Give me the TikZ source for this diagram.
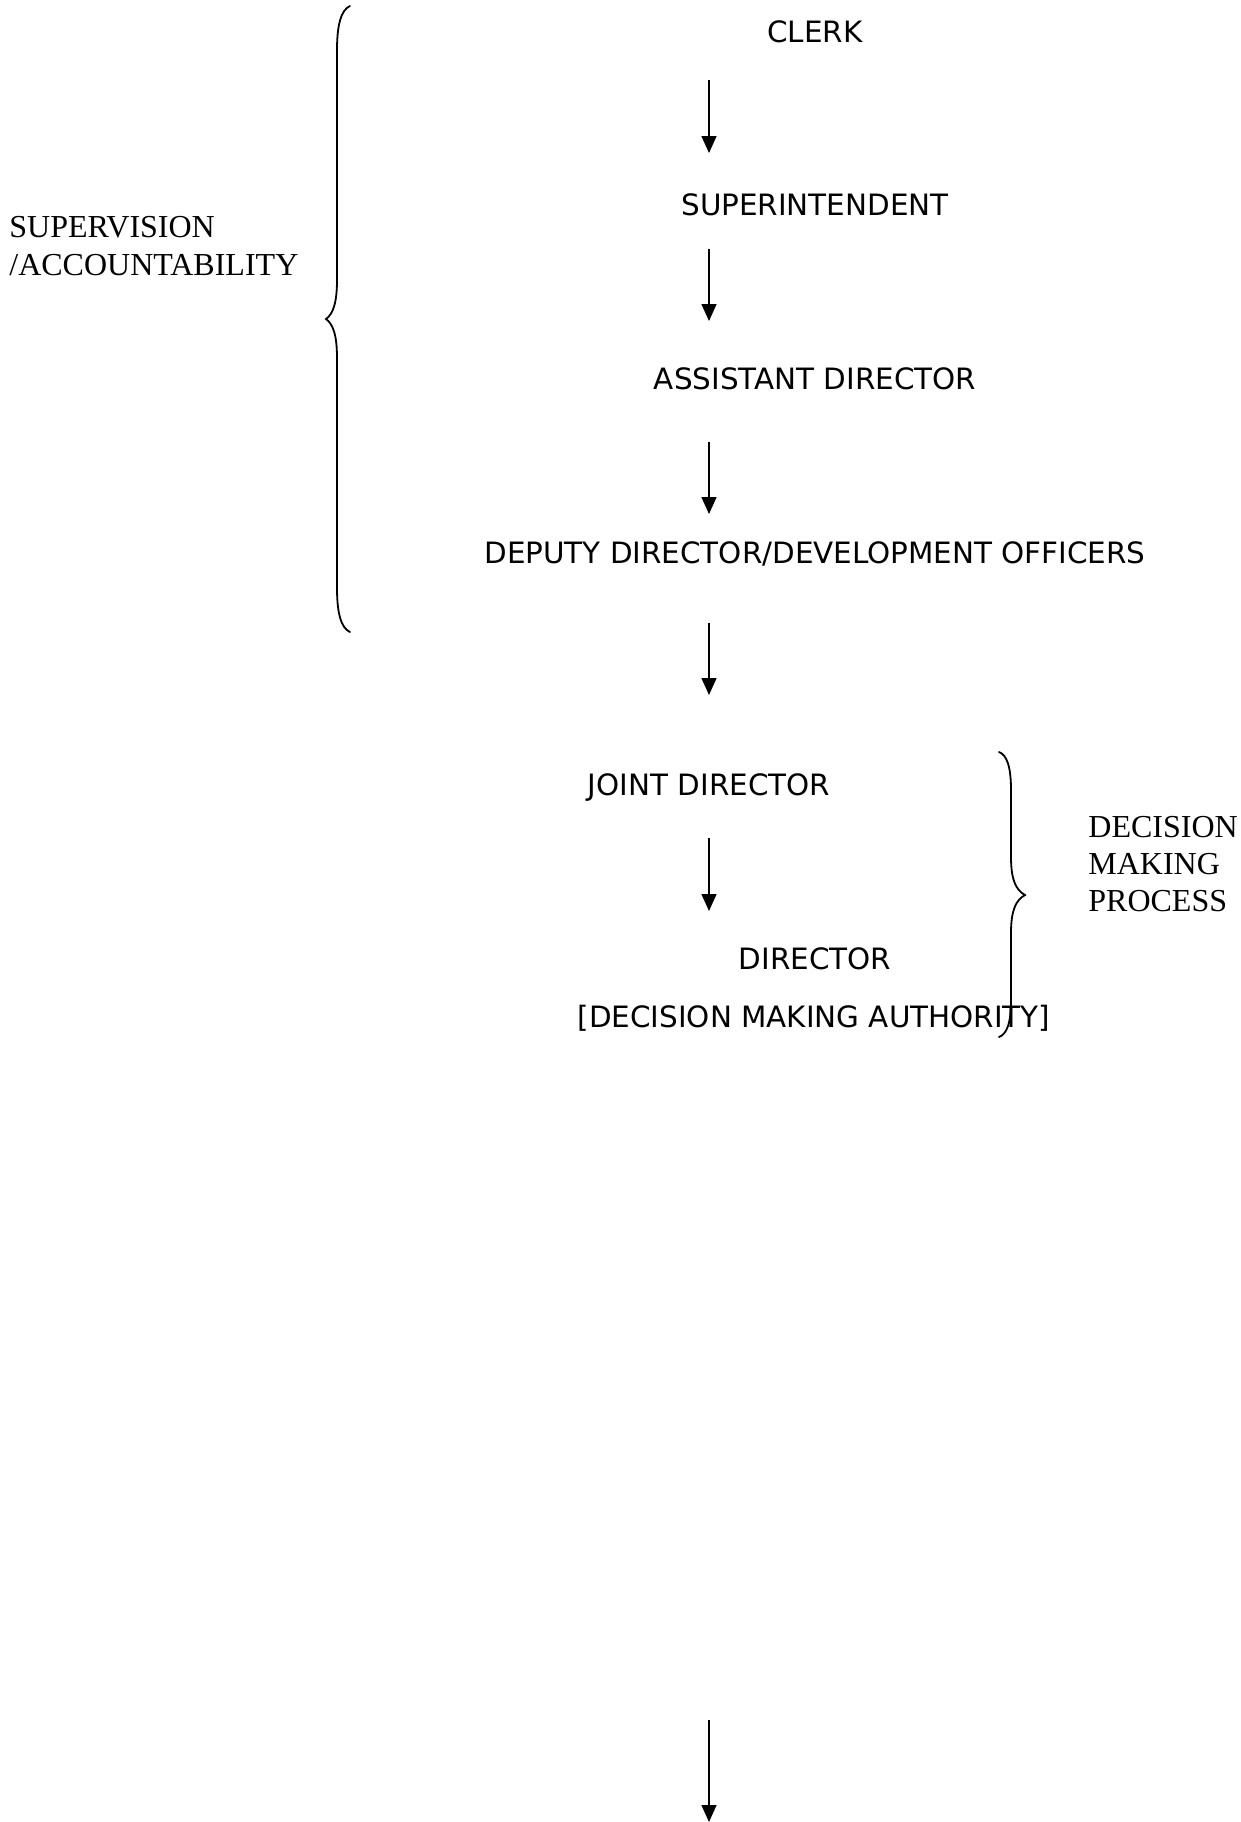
\documentclass[tikz,border=0pt]{standalone}
\usepackage{fontspec}
\usetikzlibrary{arrows.meta}
\newfontfamily\lblsans{DejaVu Sans}
\newfontfamily\lblserif{Liberation Serif}
\begin{document}
\begin{tikzpicture}[x=0.5pt,y=-0.5pt,
  rank/.style={font=\lblsans\fontsize{14.7pt}{17pt}\selectfont, anchor=base, inner sep=0pt},
  side/.style={font=\lblserif\fontsize{16pt}{18pt}\selectfont, anchor=base west, inner sep=0pt},
  arr/.style={line width=0.75pt, -{Triangle[length=8.5pt,width=7.5pt]}},
  brace/.style={line width=0.9pt, line cap=round}]
\useasboundingbox (0,0) rectangle (1241,1822);
% ranks
\node[rank] (clerk) at (815,42) {CLERK};
\node[rank] (supt) at (815,215) {SUPERINTENDENT};
\node[rank] (asst) at (815,389) {ASSISTANT DIRECTOR};
\node[rank] (deputy) at (815,563) {DEPUTY DIRECTOR/DEVELOPMENT OFFICERS};
\node[rank] (joint) at (709,795) {JOINT DIRECTOR};
\node[rank] (dir) at (815,969) {DIRECTOR};
\node[rank] (auth) at (814,1027) {[DECISION MAKING AUTHORITY]};
% side labels
\node[side] (sup1) at (9,237) {SUPERVISION};
\node[side] (sup2) at (9,275) {/ACCOUNTABILITY};
\node[side] (dec1) at (1088,837) {DECISION};
\node[side] (dec2) at (1088,874) {MAKING};
\node[side] (dec3) at (1088,911) {PROCESS};
% arrow end points
\coordinate (a1s) at (709,80);   \coordinate (a1e) at (709,153);
\coordinate (a2s) at (709,249);  \coordinate (a2e) at (709,321);
\coordinate (a3s) at (709,442);  \coordinate (a3e) at (709,514);
\coordinate (a4s) at (709,623);  \coordinate (a4e) at (709,695);
\coordinate (a5s) at (709,838);  \coordinate (a5e) at (709,911);
\coordinate (a6s) at (709,1720); \coordinate (a6e) at (709,1822);
\draw[arr] (a1s) -- (a1e);
\draw[arr] (a2s) -- (a2e);
\draw[arr] (a3s) -- (a3e);
\draw[arr] (a4s) -- (a4e);
\draw[arr] (a5s) -- (a5e);
\draw[arr] (a6s) -- (a6e);
% left brace
\draw[brace] (350,6) .. controls (341,10) and (337,25) .. (337,50)
  -- (337,280) .. controls (337,303) and (333,314) .. (326,319)
  .. controls (333,324) and (337,335) .. (337,358)
  -- (337,588) .. controls (337,613) and (341,628) .. (350,632);
% right brace
\draw[brace] (999,752) .. controls (1007,755) and (1011,767) .. (1011,790)
  -- (1011,857) .. controls (1011,880) and (1016,890) .. (1025,895)
  .. controls (1016,900) and (1011,910) .. (1011,933)
  -- (1011,1000) .. controls (1011,1023) and (1007,1034) .. (999,1037);
\end{tikzpicture}
\end{document}
